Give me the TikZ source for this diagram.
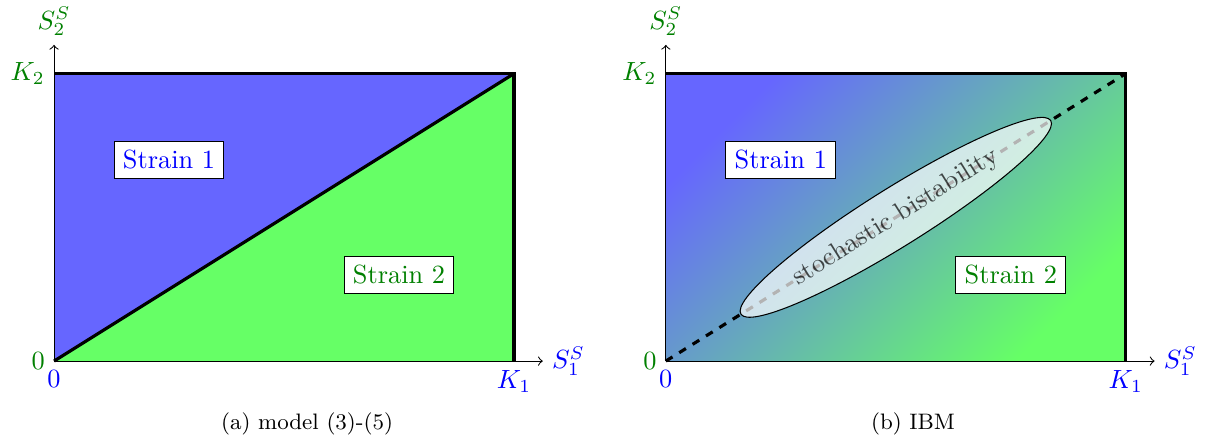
\documentclass[tikz,border=0pt]{standalone}
\usetikzlibrary{shapes.geometric}

\colorlet{strainone}{blue}
\colorlet{straintwo}{green!50!black}
\tikzset{
  region/.style={rectangle,draw,fill=white},
  axis/.style={->},
  border/.style={very thick},
  caption/.style={font=\fontsize{8.5}{10}\selectfont},
}

\begin{document}
\begin{tikzpicture}[x=0.768cm,y=0.768cm]
  \useasboundingbox (-0.94,-1.39) rectangle (20.4,6.28);

  % (a) deterministic model
  \coordinate (a-o) at (0,0);
  \coordinate (a-k1) at (8,0);
  \coordinate (a-k2) at (0,5);
  \coordinate (a-k) at (8,5);
  \fill[blue!60] (a-o) -- (a-k) -- (a-k2) -- cycle;
  \fill[green!60] (a-o) -- (a-k1) -- (a-k) -- cycle;
  \draw[border] (a-k2) -- (a-k) -- (a-k1);
  \draw[border] (a-o) -- (a-k);
  \coordinate (a-x) at (8.5,0);
  \coordinate (a-y) at (0,5.5);
  \draw[axis] (a-o) -- (a-x);
  \draw[axis] (a-o) -- (a-y);
  \node[right,strainone] (a-xlab) at (a-x) {$S_1^S$};
  \node[above,straintwo] (a-ylab) at (a-y) {$S_2^S$};
  \node[left,straintwo] (a-zero2) at (a-o) {$0$};
  \node[below,strainone] (a-zero1) at (a-o) {$0$};
  \node[left,straintwo] (a-k2lab) at (a-k2) {$K_2$};
  \node[below,strainone] (a-k1lab) at (a-k1) {$K_1$};
  \node[region,text=strainone] (a-one) at (2,3.5) {Strain 1};
  \node[region,text=straintwo] (a-two) at (6,1.5) {Strain 2};
  \node[caption] (a-cap) at (4.4,-1.1) {(a) model (3)-(5)};

  % (b) individual based model
  \begin{scope}[shift={(10.64,0)}]
    \coordinate (b-o) at (0,0);
    \coordinate (b-k1) at (8,0);
    \coordinate (b-k2) at (0,5);
    \coordinate (b-k) at (8,5);
    \shade[top color=blue!60,bottom color=green!60,shading angle=45]
      (b-o) rectangle (b-k);
    \draw[border] (b-k2) -- (b-k) -- (b-k1);
    \draw[very thick,dashed] (b-o) -- (b-k);
    \coordinate (b-x) at (8.5,0);
    \coordinate (b-y) at (0,5.5);
    \draw[axis] (b-o) -- (b-x);
    \draw[axis] (b-o) -- (b-y);
    \node[right,strainone] (b-xlab) at (b-x) {$S_1^S$};
    \node[above,straintwo] (b-ylab) at (b-y) {$S_2^S$};
    \node[left,straintwo] (b-zero2) at (b-o) {$0$};
    \node[below,strainone] (b-zero1) at (b-o) {$0$};
    \node[left,straintwo] (b-k2lab) at (b-k2) {$K_2$};
    \node[below,strainone] (b-k1lab) at (b-k1) {$K_1$};
    \node[region,text=strainone] (b-one) at (2,3.5) {Strain 1};
    \node[region,text=straintwo] (b-two) at (6,1.5) {Strain 2};
    \node[ellipse,draw,fill=white,fill opacity=0.7,rotate=32,
      minimum width=4.88cm,minimum height=0.66cm] (b-bist) at (4,2.5)
      {stochastic bistability};
    \node[caption] (b-cap) at (4.3,-1.1) {(b) IBM};
  \end{scope}
\end{tikzpicture}
\end{document}
